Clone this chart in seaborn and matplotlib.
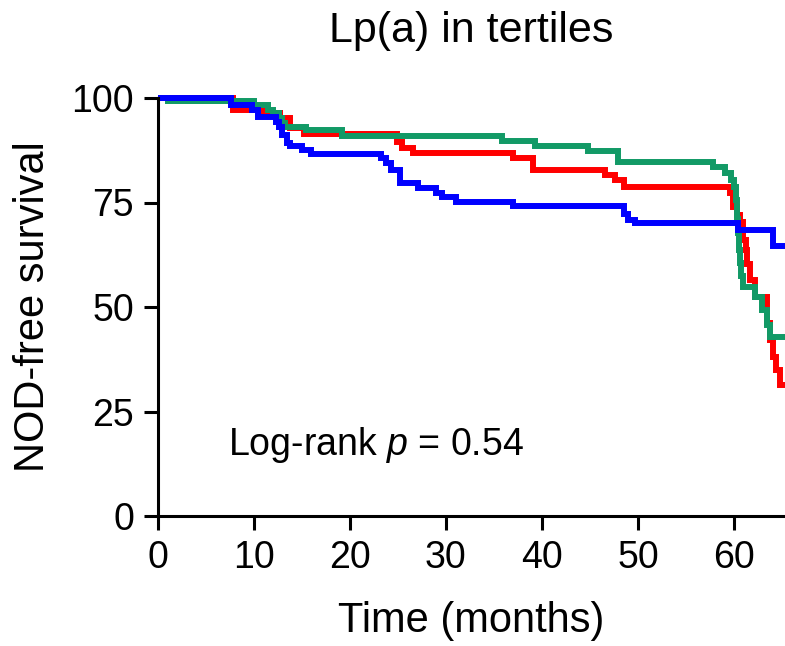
import matplotlib
matplotlib.use("Agg")
import matplotlib.pyplot as plt
import seaborn as sns
import pandas as pd

# ---- data ----
groups = ["T1", "T2", "T3"]
colors = {"T1": "#FF0000", "T2": "#129A66", "T3": "#0000FF"}

red_time = [0, 7.9, 11.0, 12.7, 13.8, 15.2, 24.9, 25.4, 26.6, 37.0, 39.1, 46.6, 47.6, 48.5,
            59.6, 59.9, 60.27, 60.6, 60.96, 61.2, 61.3, 61.65, 62.17, 63.4, 63.7, 64.1, 64.4, 64.8, 65.3]
red_surv = [100, 97.1, 96.5, 95.1, 92.9, 91.5, 89.5, 88.0, 86.8, 85.6, 82.8, 81.6, 80.3, 78.8,
            77.2, 74.0, 72.0, 70.4, 66.0, 63.6, 60.4, 56.5, 52.5, 46.1, 42.1, 38.1, 34.9, 31.3, 31.3]

green_time = [0, 1.1, 10.0, 11.5, 12.0, 12.6, 13.0, 13.3, 15.5, 19.2, 35.8, 39.3, 44.8, 47.9,
              57.8, 59.1, 59.7, 60.0, 60.2, 60.3, 60.4, 60.5, 60.6, 60.75, 60.9, 62.2, 62.9, 63.4, 63.75, 65.3]
green_surv = [100, 99.2, 98.3, 97.1, 96.3, 95.1, 93.9, 93.1, 92.3, 90.9, 89.8, 88.5, 87.3, 84.8,
              83.6, 82.0, 80.4, 78.8, 75.6, 71.0, 67.7, 63.6, 60.5, 57.5, 54.9, 52.5, 49.3, 45.7, 42.8, 42.8]

blue_time = [0, 7.7, 9.8, 10.5, 12.3, 12.6, 13.0, 13.5, 13.8, 15.0, 16.0, 23.3, 23.8, 24.3, 25.2,
             27.1, 29.0, 29.6, 31.1, 37.0, 48.5, 49.0, 49.7, 60.4, 64.1, 65.3]
blue_surv = [100, 98.3, 97.1, 95.4, 94.3, 93.1, 91.1, 89.2, 88.4, 87.6, 86.5, 85.6, 84.4, 82.8, 79.6,
             78.4, 77.3, 76.3, 75.2, 74.2, 72.2, 70.8, 70.0, 68.4, 64.6, 64.6]

x_ticks = [0, 10, 20, 30, 40, 50, 60]
y_ticks = [0, 25, 50, 75, 100]
title = "Lp(a) in tertiles"
xlabel = "Time (months)"
ylabel = "NOD-free survival"
annot = "Log-rank $\\it{p}$ = 0.54"

df = pd.concat([
    pd.DataFrame({"time": red_time, "surv": red_surv, "group": "T1"}),
    pd.DataFrame({"time": green_time, "surv": green_surv, "group": "T2"}),
    pd.DataFrame({"time": blue_time, "surv": blue_surv, "group": "T3"}),
], ignore_index=True)

sns.set_theme(style="ticks")
plt.rcParams["font.family"] = ["Liberation Sans", "DejaVu Sans"]
plt.rcParams["mathtext.fontset"] = "custom"
plt.rcParams["mathtext.it"] = "Liberation Sans:italic"
plt.rcParams["mathtext.rm"] = "Liberation Sans"

fig = plt.figure(figsize=(7.85, 6.46), dpi=100)
ax = fig.add_axes([157.5 / 785, 1 - 516 / 646, 1 - 157.5 / 785, (516 - 98) / 646])

sns.lineplot(data=df, x="time", y="surv", hue="group", hue_order=groups, palette=colors,
             estimator=None, sort=False, drawstyle="steps-post", linewidth=4.3,
             legend=False, ax=ax)
for ln in ax.get_lines():
    ln.set_clip_on(False)
    ln.set_solid_capstyle("butt")
    ln.set_solid_joinstyle("miter")

ax.set_xlim(0, 65.3)
ax.set_ylim(0, 100)
ax.set_xticks(x_ticks)
ax.set_yticks(y_ticks)
sns.despine(ax=ax)
for s in ["left", "bottom"]:
    ax.spines[s].set_linewidth(2.2)
    ax.spines[s].set_color("black")
ax.tick_params(axis="both", length=10, width=2.2, color="black", labelsize=27, pad=7,
               labelcolor="black")

ax.set_xlabel(xlabel, fontsize=30, labelpad=18, color="black")
ax.set_ylabel(ylabel, fontsize=30, labelpad=13, color="black")
ax.set_title(title, fontsize=31, pad=40, color="black")
ax.text(7.3, 14.6, annot, fontsize=27, color="black", ha="left", va="baseline")

fig.savefig("out.png", dpi=100)
